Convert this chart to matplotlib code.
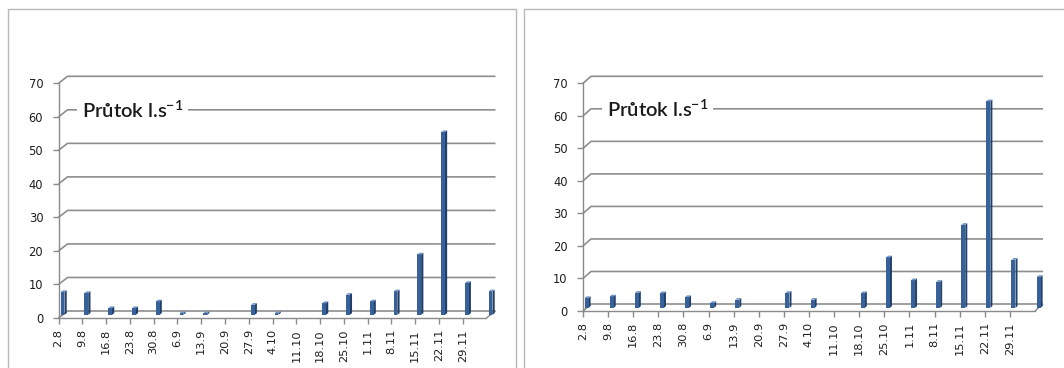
import matplotlib
matplotlib.use("Agg")
import matplotlib.pyplot as plt
import numpy as np
from matplotlib.patches import Polygon, Rectangle
from matplotlib.lines import Line2D
from matplotlib.transforms import IdentityTransform, ScaledTranslation

# ---- data -------------------------------------------------------------
dates = ["2.8", "9.8", "16.8", "23.8", "30.8", "6.9", "13.9", "20.9", "27.9",
         "4.10", "11.10", "18.10", "25.10", "1.11", "8.11", "15.11", "22.11",
         "29.11", ""]
flow_a = [6.8, 6.5, 2.0, 2.0, 4.0, 0.5, 0.5, 0.0, 3.0,
          0.5, 0.0, 3.5, 6.0, 4.0, 7.0, 18.0, 54.5, 9.5, 7.0]
flow_b = [3.0, 3.5, 4.6, 4.5, 3.3, 1.5, 2.5, 0.0, 4.6,
          2.5, 0.0, 4.5, 15.5, 8.5, 8.0, 25.5, 63.5, 14.8, 9.5]
y_ticks = [0, 10, 20, 30, 40, 50, 60, 70]
title_text = "Průtok l.s$^{\\mathregular{-1}}$"

# ---- style --------------------------------------------------------------
plt.rcParams["font.family"] = ["DejaVu Sans"]
plt.rcParams["mathtext.fontset"] = "custom"
plt.rcParams["mathtext.rm"] = "Lato"

W, H = 1064, 368
fig = plt.figure(figsize=(W / 100, H / 100), dpi=100)
fig.patch.set_facecolor("white")

axis_grey = "#8a8a8a"
grid_grey = "#8e8e8e"
frame_grey = "#b8b8b8"
bar_front = "#36619a"
bar_side = "#213f68"
bar_top = "#7097c8"
label_col = "#1e1e1e"

bar_w = 0.16          # bar width in category units
d_front, d_back = 0.45, 0.70   # bar depth range (fraction of wall depth)

panels = [
    dict(frame=(8, 9, 516), box=(58.5, 486.5, 318.0, 83.3), depth=(9, 7),
         values=flow_a),
    dict(frame=(524, 9, 1080), box=(583.0, 1035.0, 311.0, 83.3), depth=(8, 7),
         values=flow_b),
]


def draw_panel(spec):
    left, right, y0, ytop = spec["box"]
    dx, dy = spec["depth"]
    values = spec["values"]
    n = len(values)

    fl, ft, fr = spec["frame"]
    fig.add_artist(Rectangle((fl / W, -0.1), (fr - fl) / W, 1.1 - ft / H,
                             transform=fig.transFigure, fill=False,
                             edgecolor=frame_grey, lw=1.0))

    ax = fig.add_axes([left / W, 1 - y0 / H, (right - left) / W, (y0 - ytop) / H])
    ax.set_xlim(0, n - 1)
    ax.set_ylim(0, 70)
    ax.set_autoscale_on(False)
    ax.patch.set_visible(False)
    for s in ("top", "right"):
        ax.spines[s].set_visible(False)
    for s in ("left", "bottom"):
        ax.spines[s].set_color(axis_grey)
        ax.spines[s].set_linewidth(1.0)

    ax.set_yticks(y_ticks)
    ax.set_yticklabels([str(v) for v in y_ticks])
    ticked = [i for i, d in enumerate(dates) if d]
    ax.set_xticks(ticked)
    ax.set_xticklabels([dates[i] for i in ticked], rotation=90)
    ax.tick_params(axis="y", length=4, width=1, color=axis_grey, pad=7,
                   labelsize=8.3, labelcolor=label_col)
    ax.tick_params(axis="x", length=4, width=1, color=axis_grey, pad=4,
                   labelsize=8.2, labelcolor=label_col)

    tr = ax.transData

    def P(x, y, d):
        px, py = tr.transform((x, y))
        return (px + d * dx, py + d * dy)

    def line(pts, color=grid_grey, lw=1.2, z=1):
        xs, ys = zip(*pts)
        ax.add_line(Line2D(xs, ys, transform=IdentityTransform(), color=color,
                           lw=lw, clip_on=False, zorder=z,
                           solid_capstyle="butt"))

    # back wall gridlines with side-wall connectors
    for v in y_ticks:
        line([P(0, v, 0), P(0, v, 1), P(n - 1, v, 1)])
    # right edge of the floor
    line([P(n - 1, 0, 0), P(n - 1, 0, 1)], color=axis_grey, lw=1.0)

    # 3-D columns
    for x, v in zip(range(n), values):
        if v <= 0:
            continue
        xl, xr = x - bar_w / 2, x + bar_w / 2
        front = [P(xl, 0, d_front), P(xr, 0, d_front), P(xr, v, d_front), P(xl, v, d_front)]
        side = [P(xr, 0, d_front), P(xr, 0, d_back), P(xr, v, d_back), P(xr, v, d_front)]
        top = [P(xl, v, d_front), P(xr, v, d_front), P(xr, v, d_back), P(xl, v, d_back)]
        for pts, col in ((side, bar_side), (front, bar_front), (top, bar_top)):
            ax.add_patch(Polygon(pts, closed=True, transform=IdentityTransform(),
                                 facecolor=col, edgecolor="none", clip_on=False,
                                 zorder=3))

    # chart title sitting on the back wall
    wall = tr + ScaledTranslation(dx / 100, dy / 100, fig.dpi_scale_trans)
    ax.text(0.62, 60, title_text, transform=wall, family="Lato", fontsize=14.5,
            fontweight="semibold", color="#1a1a1a", ha="left", va="center",
            zorder=10, bbox=dict(facecolor="white", edgecolor="none", pad=3.5))
    return ax


for spec in panels:
    draw_panel(spec)

fig.savefig("out.png", dpi=100, facecolor="white")
